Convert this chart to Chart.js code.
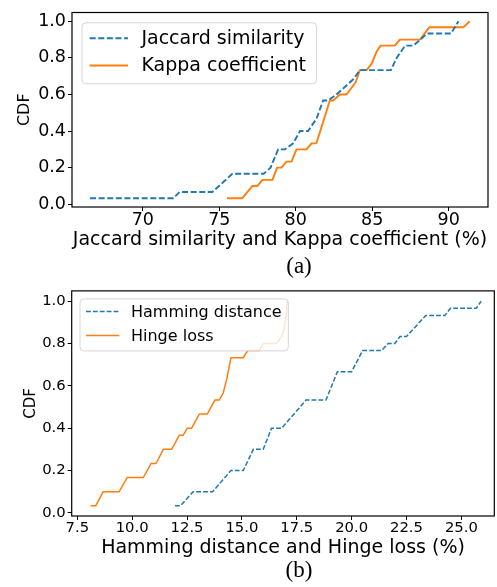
<!DOCTYPE html>
<html><head><meta charset="utf-8">
<script src="https://cdn.jsdelivr.net/npm/chart.js@4.4.1/dist/chart.umd.min.js"></script>
<style>
html,body{margin:0;padding:0;background:#fff;width:497px;height:587px;overflow:hidden;}
.wrap{position:absolute;left:0;width:497px;}
.cap{position:absolute;font-family:"Liberation Serif",serif;font-size:23px;line-height:23px;width:100px;text-align:center;left:249px;color:#000;}
</style></head><body>
<div class="wrap" style="top:0;height:256px"><canvas id="chartA" width="497" height="256"></canvas></div>
<div class="cap" id="capA" style="top:254px">(a)</div>
<div class="wrap" style="top:280px;height:282px"><canvas id="chartB" width="497" height="282"></canvas></div>
<div class="cap" id="capB" style="top:558px">(b)</div>
<script>
// ---------- data: panel (a) ----------
const labelJaccard = "Jaccard similarity";
const labelKappa = "Kappa coefficient";
const xTitleA = "Jaccard similarity and Kappa coefficient (%)";
const jaccardX = [66.55, 72.0, 72.4, 74.55, 75.86, 77.91, 78.35, 78.85, 79.29, 79.83, 80.28, 80.81, 81.35, 81.79, 82.12, 82.66, 83.1, 83.76, 84.2, 86.22, 86.6, 87.15, 87.69, 88.15, 88.57, 90.15, 90.64];
const jaccardY = [0.033, 0.033, 0.067, 0.067, 0.167, 0.167, 0.2, 0.3, 0.3, 0.333, 0.4, 0.4, 0.467, 0.567, 0.567, 0.6, 0.633, 0.683, 0.733, 0.733, 0.8, 0.867, 0.867, 0.9, 0.933, 0.933, 1.0];
const kappaX = [75.5, 76.51, 77.17, 77.5, 77.82, 78.48, 78.78, 79.06, 79.4, 79.72, 80.05, 80.71, 81.03, 81.35, 81.79, 82.23, 82.45, 82.88, 83.32, 83.92, 84.19, 84.63, 84.96, 85.28, 85.55, 86.48, 86.81, 88.12, 88.73, 90.96, 91.37];
const kappaY = [0.033, 0.033, 0.1, 0.1, 0.133, 0.133, 0.2, 0.2, 0.233, 0.233, 0.3, 0.3, 0.333, 0.333, 0.45, 0.567, 0.567, 0.6, 0.6, 0.667, 0.733, 0.733, 0.767, 0.833, 0.867, 0.867, 0.9, 0.9, 0.967, 0.967, 1.0];
const xTicksA = [70, 75, 80, 85, 90];

// ---------- data: panel (b) ----------
const labelHamming = "Hamming distance";
const labelHinge = "Hinge loss";
const xTitleB = "Hamming distance and Hinge loss (%)";
const hammingX = [11.95, 12.2, 12.78, 13.67, 14.5, 15.06, 15.37, 15.52, 15.97, 16.35, 16.81, 17.65, 17.92, 18.83, 19.35, 20.0, 20.5, 21.36, 21.66, 21.97, 22.2, 22.5, 23.38, 24.25, 24.5, 25.68, 25.9];
const hammingY = [0.033, 0.033, 0.1, 0.1, 0.2, 0.2, 0.267, 0.3, 0.3, 0.4, 0.4, 0.5, 0.533, 0.533, 0.667, 0.667, 0.767, 0.767, 0.8, 0.8, 0.833, 0.833, 0.933, 0.933, 0.967, 0.967, 1.0];
const hingeX = [8.11, 8.34, 8.68, 9.41, 9.78, 10.51, 10.86, 11.09, 11.42, 11.8, 12.15, 12.33, 12.51, 12.71, 13.06, 13.42, 13.77, 13.97, 14.15, 14.31, 14.5, 15.06, 15.26, 15.79, 15.97, 16.58, 16.81, 16.92, 17.01, 17.08];
const hingeY = [0.033, 0.033, 0.1, 0.1, 0.167, 0.167, 0.233, 0.233, 0.3, 0.3, 0.367, 0.367, 0.4, 0.4, 0.467, 0.467, 0.533, 0.533, 0.567, 0.633, 0.733, 0.733, 0.767, 0.767, 0.8, 0.8, 0.833, 0.867, 0.933, 1.0];
const xTicksB = [7.5, 10.0, 12.5, 15.0, 17.5, 20.0, 22.5, 25.0];

const yTicks = [0.0, 0.2, 0.4, 0.6, 0.8, 1.0];
const yTitle = "CDF";

// ---------- helpers ----------
const FONT = '"DejaVu Sans", sans-serif';
const BLUE = '#1f77b4', ORANGE = '#ff7f0e';
function pts(xs, ys) { return xs.map((x, i) => ({x: x, y: ys[i]})); }

const frameLegend = {
  id: 'frameLegend',
  afterDatasetsDraw(chart, args, o) {
    const ctx = chart.ctx, a = chart.chartArea;
    ctx.save();
    const x0 = a.left + o.dx, y0 = a.top + o.dy;
    ctx.font = o.fontSize + 'px ' + FONT;
    let tw = 0;
    chart.data.datasets.forEach(d => { tw = Math.max(tw, ctx.measureText(d.label).width); });
    const w = o.textX + tw + o.padR, h = o.h, r = 4;
    ctx.beginPath();
    ctx.moveTo(x0 + r, y0);
    ctx.lineTo(x0 + w - r, y0); ctx.arcTo(x0 + w, y0, x0 + w, y0 + r, r);
    ctx.lineTo(x0 + w, y0 + h - r); ctx.arcTo(x0 + w, y0 + h, x0 + w - r, y0 + h, r);
    ctx.lineTo(x0 + r, y0 + h); ctx.arcTo(x0, y0 + h, x0, y0 + h - r, r);
    ctx.lineTo(x0, y0 + r); ctx.arcTo(x0, y0, x0 + r, y0, r);
    ctx.closePath();
    ctx.fillStyle = 'rgba(255,255,255,0.8)';
    ctx.fill();
    ctx.strokeStyle = 'rgba(204,204,204,0.8)';
    ctx.lineWidth = 1;
    ctx.stroke();
    chart.data.datasets.forEach((d, i) => {
      const yy = y0 + o.rows[i];
      ctx.beginPath();
      ctx.strokeStyle = d.borderColor;
      ctx.lineWidth = d.borderWidth;
      ctx.setLineDash(d.borderDash || []);
      ctx.moveTo(x0 + o.lineX0, yy); ctx.lineTo(x0 + o.lineX1, yy);
      ctx.stroke();
      ctx.setLineDash([]);
      ctx.fillStyle = '#000';
      ctx.textBaseline = 'middle';
      ctx.textAlign = 'left';
      ctx.fillText(d.label, x0 + o.textX, yy + 1);
    });
    ctx.strokeStyle = '#000';
    ctx.lineWidth = o.frameWidth;
    ctx.strokeRect(a.left, a.top, a.right - a.left, a.bottom - a.top);
    ctx.restore();
  }
};

function makeChart(id, cfg) {
  return new Chart(document.getElementById(id), {
    type: 'scatter',
    data: {
      datasets: [
        {label: cfg.l1, data: pts(cfg.x1, cfg.y1), borderColor: BLUE, backgroundColor: BLUE,
         borderWidth: cfg.lw, borderDash: cfg.dash, showLine: true, pointRadius: 0, tension: 0, fill: false, borderCapStyle: 'butt'},
        {label: cfg.l2, data: pts(cfg.x2, cfg.y2), borderColor: ORANGE, backgroundColor: ORANGE,
         borderWidth: cfg.lw, showLine: true, pointRadius: 0, tension: 0, fill: false, borderJoinStyle: 'round'}
      ]
    },
    options: {
      responsive: false,
      animation: false,
      devicePixelRatio: 1,
      layout: {padding: cfg.pad},
      plugins: {legend: {display: false}, tooltip: {enabled: false}, frameLegend: cfg.legend},
      scales: {
        x: {
          type: 'linear', min: cfg.xmin, max: cfg.xmax,
          afterFit: s => { s.height = cfg.xh; },
          afterBuildTicks: s => { s.ticks = cfg.xticks.map(v => ({value: v})); },
          ticks: {font: {family: FONT, size: cfg.tickSize}, color: '#000', padding: cfg.xTickPad, maxRotation: 0,
                  callback: v => cfg.xfmt(v)},
          grid: {display: true, drawOnChartArea: false, drawTicks: true, tickLength: 4, color: '#000', lineWidth: 1},
          border: {display: false},
          title: {display: true, text: cfg.xtitle, color: '#000', font: {family: FONT, size: cfg.titleSize},
                  padding: {top: 0, bottom: cfg.xTitlePad}}
        },
        y: {
          type: 'linear', min: cfg.ymin, max: cfg.ymax,
          afterFit: s => { s.width = cfg.yw; },
          afterBuildTicks: s => { s.ticks = yTicks.map(v => ({value: v})); },
          ticks: {font: {family: FONT, size: cfg.tickSize}, color: '#000', padding: 2,
                  callback: v => Number(v).toFixed(1)},
          grid: {display: true, drawOnChartArea: false, drawTicks: true, tickLength: 4, color: '#000', lineWidth: 1},
          border: {display: false},
          title: {display: true, text: yTitle, color: '#000', font: {family: FONT, size: cfg.yTitleSize},
                  padding: {top: cfg.yTitlePad, bottom: 0}}
        }
      }
    },
    plugins: [frameLegend]
  });
}

makeChart('chartA', {
  l1: labelJaccard, x1: jaccardX, y1: jaccardY,
  l2: labelKappa, x2: kappaX, y2: kappaY,
  lw: 1.9, dash: [6, 2.6],
  pad: {top: 7, right: 9, left: 0, bottom: 0},
  xmin: 65.37, xmax: 92.57, ymin: -0.015, ymax: 1.048,
  xh: 49, yw: 72,
  xticks: xTicksA, xfmt: v => String(v),
  tickSize: 17.5, titleSize: 19, yTitleSize: 16,
  xTickPad: -1, xTitlePad: 4.6, yTitlePad: 15.4, xtitle: xTitleA,
  legend: {dx: 10, dy: 10.3, h: 61, fontSize: 19, rows: [15.4, 42.7], lineX0: 7.7, lineX1: 46, textX: 59.4, padR: 10.6, frameWidth: 1.2}
});

makeChart('chartB', {
  l1: labelHamming, x1: hammingX, y1: hammingY,
  l2: labelHinge, x2: hingeX, y2: hingeY,
  lw: 1.5, dash: [4.8, 2.1],
  pad: {top: 6, right: 2.7, left: 0, bottom: 0},
  xmin: 7.245, xmax: 26.5, ymin: -0.015, ymax: 1.049,
  xh: 46, yw: 71.7,
  xticks: xTicksB, xfmt: v => Number(v).toFixed(1),
  tickSize: 14.8, titleSize: 19, yTitleSize: 15,
  xTickPad: -1, xTitlePad: 2.9, yTitlePad: 22.5, xtitle: xTitleB,
  legend: {dx: 8.3, dy: 8, h: 52, fontSize: 16, rows: [12.7, 36.7], lineX0: 6, lineX1: 39.3, textX: 51, padR: 6.7, frameWidth: 1.2}
});
</script>
</body></html>
